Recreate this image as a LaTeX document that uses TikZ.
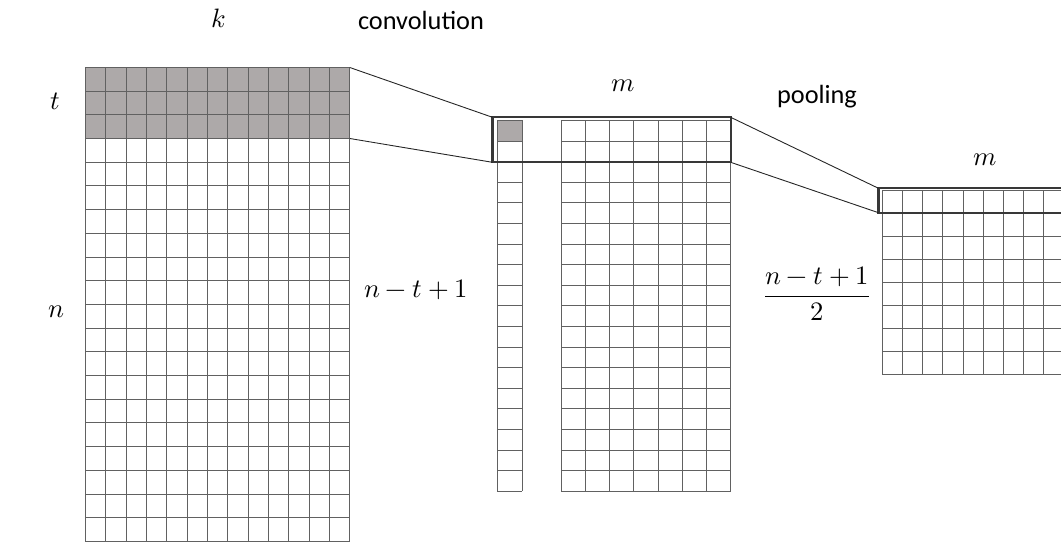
\documentclass[tikz,border=0pt]{standalone}
\usepackage{amsmath}
\usepackage{fontspec}
\usepackage{unicode-math}
\setmathfont{Latin Modern Math}
\setsansfont{Carlito}
\definecolor{shadegray}{RGB}{173,169,169}
\tikzset{
  gridline/.style={draw=black!62, line width=1.2pt},
  winbox/.style={draw=black!78, line width=2.2pt},
  link/.style={draw=black!85, line width=0.9pt},
  lab/.style={font=\fontsize{26.6}{32}\selectfont, inner sep=0pt},
  wordlab/.style={font=\sffamily\fontsize{26.3}{30}\selectfont, inner sep=0pt},
}
\begin{document}
\begin{tikzpicture}[x=1pt,y=-1pt]
\useasboundingbox (0,0) rectangle (1061,542);
\clip (0,0) rectangle (1061,542);
% ---------- left grid: 13 x 20 ----------
\fill[shadegray] (85,67) rectangle (349.3,138.1);
\foreach \i in {0,...,13} \draw[gridline] ({round(85+\i*20.33)+0.5},67) -- ({round(85+\i*20.33)+0.5},541);
\foreach \j in {0,...,20} \draw[gridline] (85,{round(67+\j*23.7)+0.5}) -- (349.8,{round(67+\j*23.7)+0.5});
\coordinate (L1) at (349.8,67.5);
\coordinate (L2) at (349.8,138.5);
% ---------- middle column: 1 x 18 ----------
\fill[shadegray] (497,120) rectangle (521.5,140.6);
\foreach \i in {0,1} \draw[gridline] ({round(497+\i*24.5)+0.5},120) -- ({round(497+\i*24.5)+0.5},490.7);
\foreach \j in {0,...,18} \draw[gridline] (497,{round(120+\j*20.6)+0.5}) -- (522,{round(120+\j*20.6)+0.5});
% ---------- middle grid: 7 x 18 ----------
\foreach \i in {0,...,7} \draw[gridline] ({round(561+\i*24.14)+0.5},120) -- ({round(561+\i*24.14)+0.5},490.7);
\foreach \j in {0,...,18} \draw[gridline] (561,{round(120+\j*20.6)+0.5}) -- (730.5,{round(120+\j*20.6)+0.5});
% window box
\draw[winbox] (492.5,117.3) rectangle (730.7,162.3);
\coordinate (B1) at (492.5,117.3);
\coordinate (B2) at (492.5,162.3);
\coordinate (B3) at (730.7,117.3);
\coordinate (B4) at (730.7,162.3);
% ---------- right grid: 9 x 8 (cut at edge) ----------
\foreach \i in {0,...,9} \draw[gridline] ({round(882+\i*20.15)+0.5},190) -- ({round(882+\i*20.15)+0.5},374.3);
\foreach \j in {0,...,8} \draw[gridline] (882,{round(190+\j*23.04)+0.5}) -- (1070,{round(190+\j*23.04)+0.5});
\draw[winbox] (878.5,188.3) rectangle (1075,212.7);
\coordinate (R1) at (878.5,188.3);
\coordinate (R2) at (878.5,212.7);
% ---------- connectors ----------
\draw[link] (L1) -- (B1);
\draw[link] (L2) -- (B2);
\draw[link] (B3) -- (R1);
\draw[link] (B4) -- (R2);
% ---------- labels ----------
\node[lab] (kl) at (219,18) {$k$};
\node[wordlab] (conv) at (421,20) {convolution};
\node[lab] (tl) at (55,101) {$t$};
\node[lab] (nl) at (56,312) {$n$};
\node[lab] (m1) at (623,86) {$m$};
\node[wordlab] (pool) at (817,97) {pooling};
\node[lab] (m2) at (985,160) {$m$};
\node[lab] (ntl) at (416,290) {$n-t+1$};
\node[lab] (frac) at (817,294) {$\dfrac{n-t+1}{2}$};
\end{tikzpicture}
\end{document}
